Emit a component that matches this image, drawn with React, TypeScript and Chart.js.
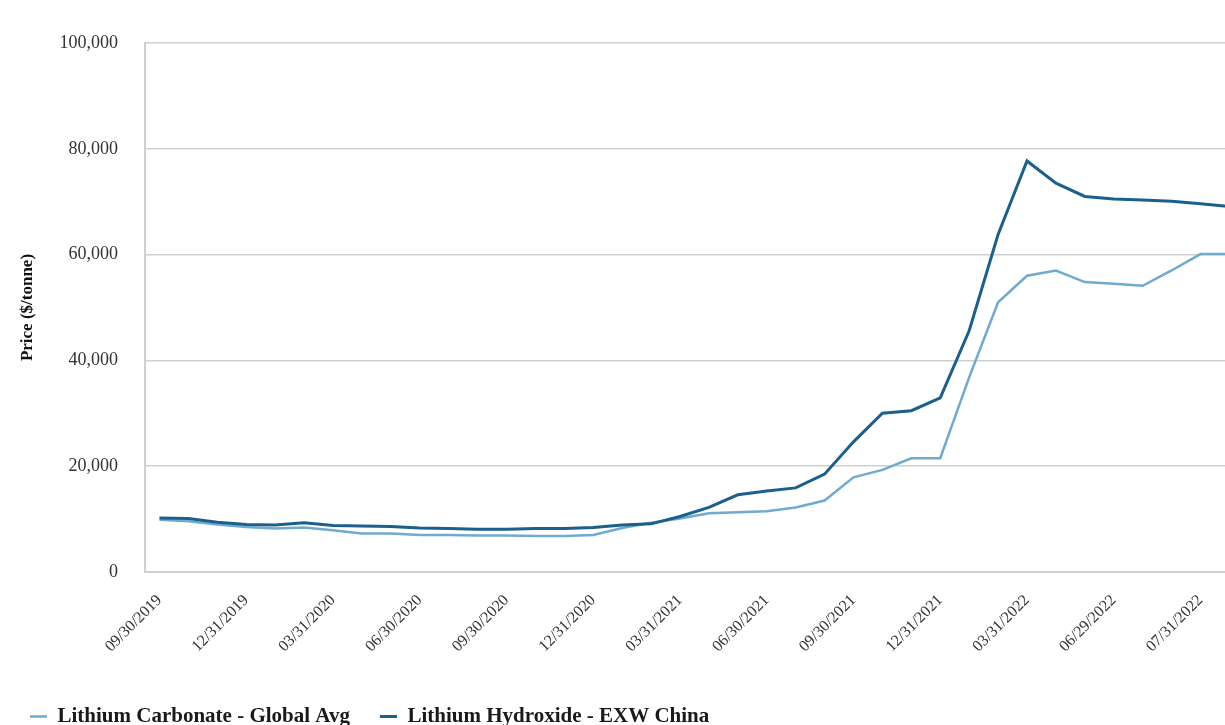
import { useEffect, useRef } from "react";
import { Chart, registerables } from "chart.js";

Chart.register(...registerables);

const dateLabels = [
  "09/30/2019", "10/31/2019", "11/29/2019", "12/31/2019", "01/31/2020", "02/28/2020",
  "03/31/2020", "04/30/2020", "05/29/2020", "06/30/2020", "07/31/2020", "08/31/2020",
  "09/30/2020", "10/30/2020", "11/30/2020", "12/31/2020", "01/29/2021", "02/26/2021",
  "03/31/2021", "04/30/2021", "05/31/2021", "06/30/2021", "07/30/2021", "08/31/2021",
  "09/30/2021", "10/29/2021", "11/30/2021", "12/31/2021", "01/31/2022", "02/28/2022",
  "03/31/2022", "04/29/2022", "05/31/2022", "06/29/2022", "07/08/2022", "07/22/2022",
  "07/31/2022", "08/05/2022",
];

const carbonate = [
  9900, 9600, 9000, 8500, 8200, 8400, 7900, 7300, 7300, 7000, 7000, 6900,
  6900, 6800, 6800, 7000, 8300, 9300, 10100, 11100, 11300, 11500, 12200, 13500,
  17900, 19300, 21500, 21500, 36800, 51000, 56000, 57000, 54800, 54500, 54100, 57000,
  60100, 60100,
];

const hydroxide = [
  10200, 10100, 9400, 9000, 8900, 9300, 8800, 8700, 8600, 8300, 8200, 8100,
  8100, 8200, 8200, 8400, 8900, 9100, 10500, 12200, 14600, 15300, 15900, 18500,
  24600, 30000, 30500, 32900, 45600, 63800, 77700, 73500, 71000, 70500, 70300, 70100,
  69600, 69100,
];

const seriesNames = ["Lithium Carbonate - Global Avg", "Lithium Hydroxide - EXW China"];
const yAxisTitle = "Price ($/tonne)";

const SERIF = "'Liberation Serif', 'Times New Roman', serif";
const LIGHT = "#6faad0";
const DARK = "#1b5f8c";
const GRID = "#cfcfcf";

const W = 1262;
const H = 737;

export default function App() {
  const ref = useRef<HTMLCanvasElement>(null);

  useEffect(() => {
    const chart = new Chart(ref.current!, {
      type: "line",
      data: {
        labels: dateLabels,
        datasets: [
          {
            label: seriesNames[0],
            data: carbonate,
            borderColor: LIGHT,
            backgroundColor: LIGHT,
            borderWidth: 2.5,
            pointRadius: 0,
            tension: 0,
            order: 1,
          },
          {
            label: seriesNames[1],
            data: hydroxide,
            borderColor: DARK,
            backgroundColor: DARK,
            borderWidth: 3,
            pointRadius: 0,
            tension: 0,
            order: 0,
          },
        ],
      },
      options: {
        animation: false,
        responsive: false,
        maintainAspectRatio: false,
        layout: { padding: { top: 43, left: 0, right: 0, bottom: 0 } },
        plugins: {
          title: { display: false },
          tooltip: { enabled: false },
          legend: {
            display: true,
            position: "bottom",
            align: "start",
            labels: {
              usePointStyle: true,
              pointStyle: "line",
              pointStyleWidth: 17,
              padding: 30,
              color: "#1a1a1a",
              font: { family: SERIF, size: 21, weight: "bold" },
              sort: (a: any, b: any) => a.datasetIndex - b.datasetIndex,
            },
          },
        },
        scales: {
          x: {
            type: "category",
            offset: true,
            grid: { display: false, drawTicks: false },
            border: { display: true, color: GRID, width: 2 },
            ticks: {
              autoSkip: false,
              minRotation: 45,
              maxRotation: 45,
              padding: 19,
              color: "#333333",
              font: { family: SERIF, size: 16 },
              callback: (_v: any, i: number) => (i % 3 === 0 ? dateLabels[i] : ""),
            },
            afterFit: (s: any) => {
              s.height = 104;
            },
          },
          y: {
            min: 0,
            max: 100000,
            grid: { color: GRID, lineWidth: 1.5, drawTicks: false },
            border: { display: true, color: GRID, width: 2 },
            ticks: {
              stepSize: 20000,
              padding: 27,
              color: "#333333",
              font: { family: SERIF, size: 18 },
              callback: (v: any) => Number(v).toLocaleString("en-US"),
            },
            title: {
              display: true,
              text: yAxisTitle,
              color: "#111111",
              font: { family: SERIF, size: 17, weight: "bold" },
              padding: { top: 17, bottom: 0 },
            },
            afterFit: (s: any) => {
              s.width = 145;
            },
          },
        },
      },
    } as any);
    return () => chart.destroy();
  }, []);

  return (
    <div
      style={{
        position: "fixed",
        left: 0,
        top: 0,
        width: 1225,
        height: 725,
        overflow: "hidden",
        background: "#ffffff",
      }}
    >
      <canvas ref={ref} width={W} height={H} style={{ width: W, height: H, display: "block" }} />
    </div>
  );
}
